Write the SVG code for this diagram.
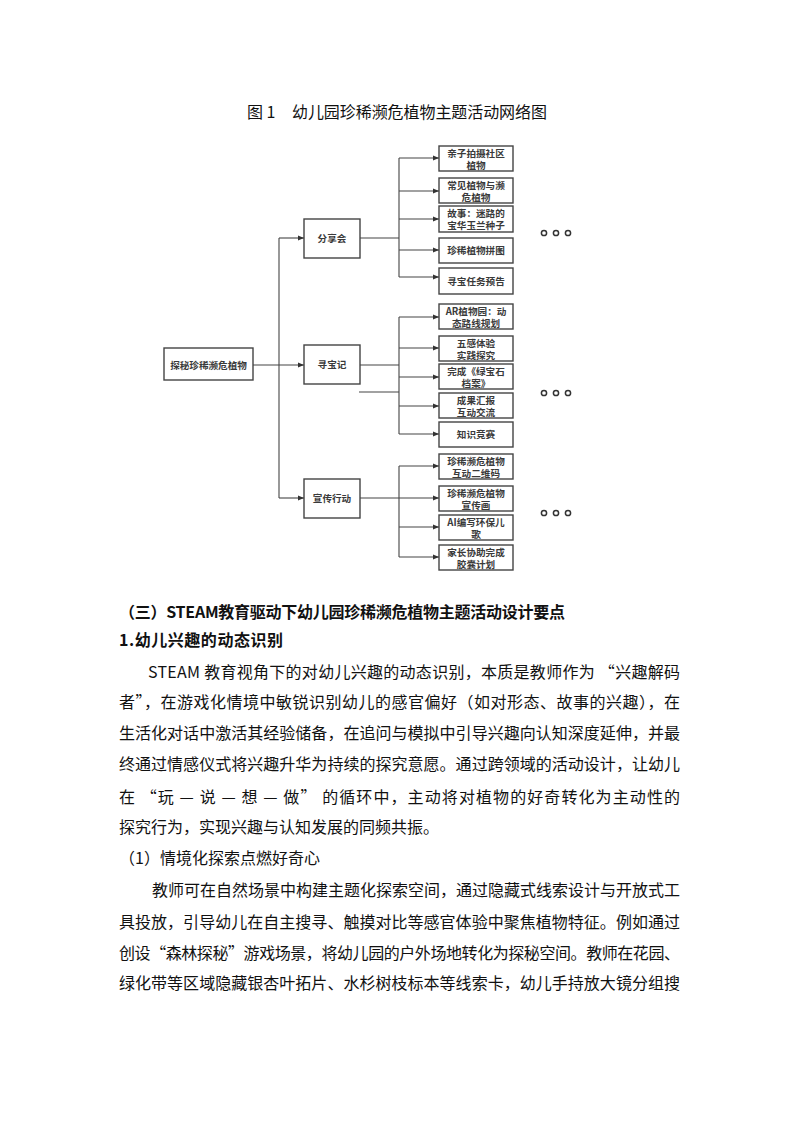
<svg xmlns="http://www.w3.org/2000/svg" width="793" height="1122" viewBox="0 0 793 1122">
<defs>
<marker id="ah" viewBox="0 0 10 10" refX="10" refY="5" markerWidth="6" markerHeight="6" orient="auto" markerUnits="userSpaceOnUse">
<path d="M0,1 L10,5 L0,9 Z" fill="#333"/>
</marker>
<style>
.box{fill:#fff;stroke:#444;stroke-width:1.4}
.nt{font-family:"Noto Sans CJK SC","Noto Sans",sans-serif;font-size:9.6px;font-weight:bold;fill:#3a3a3a;text-anchor:middle}
.ln{fill:none;stroke:#444;stroke-width:1.1}
.ar{fill:none;stroke:#444;stroke-width:1.1;marker-end:url(#ah)}
.dot{fill:none;stroke:#333;stroke-width:1.5}
.body{font-family:"Noto Sans CJK SC","Noto Sans",sans-serif;font-size:16px;fill:#111}
.bold{font-weight:bold}
</style>
</defs>
<rect width="793" height="1122" fill="#fff"/>
<g id="title">
<text class="body" x="247" y="118" font-size="15.5">图 1</text>
<text class="body" x="292" y="118" font-size="15.5" textLength="255" lengthAdjust="spacing">幼儿园珍稀濒危植物主题活动网络图</text>
</g>
<g id="connectors">
<path class="ar" d="M253,365 H304"/>
<path class="ln" d="M279,238 V498"/>
<path class="ar" d="M279,238 H304"/>
<path class="ar" d="M279,498 H304"/>
<path class="ln" d="M360,238 H399 M399,158 V277"/>
<path class="ar" d="M399,158 H439"/>
<path class="ar" d="M399,191 H439"/>
<path class="ar" d="M399,219 H439"/>
<path class="ar" d="M399,250 H439"/>
<path class="ar" d="M399,277 H439"/>
<path class="ln" d="M360,365 H399 M359,392 H399 M399,317 V434"/>
<path class="ar" d="M399,317 H439"/>
<path class="ar" d="M399,348 H439"/>
<path class="ar" d="M399,377 H439"/>
<path class="ar" d="M399,406 H439"/>
<path class="ar" d="M399,434 H439"/>
<path class="ln" d="M360,498 H399 M399,466 V557"/>
<path class="ar" d="M399,466 H439"/>
<path class="ar" d="M399,498 H439"/>
<path class="ar" d="M399,527 H439"/>
<path class="ar" d="M399,557 H439"/>
</g>
<g id="n-root"><rect class="box" x="164" y="348" width="89" height="32"/><text class="nt" x="208.5" y="368.5">探秘珍稀濒危植物</text></g>
<g id="n-share"><rect class="box" x="304" y="219" width="56" height="39"/><text class="nt" x="332" y="242">分享会</text></g>
<g id="n-hunt"><rect class="box" x="304" y="345" width="56" height="39"/><text class="nt" x="332" y="368">寻宝记</text></g>
<g id="n-promo"><rect class="box" x="304" y="479" width="56" height="39"/><text class="nt" x="332" y="502">宣传行动</text></g>

<g id="n-s1"><rect class="box" x="439" y="146" width="74" height="25"/><text class="nt" x="476" y="156.5">亲子拍摄社区</text><text class="nt" x="476" y="168.5">植物</text></g>
<g id="n-s2"><rect class="box" x="439" y="178" width="74" height="25"/><text class="nt" x="476" y="188.5">常见植物与濒</text><text class="nt" x="476" y="200.5">危植物</text></g>
<g id="n-s3"><rect class="box" x="439" y="206" width="74" height="26"/><text class="nt" x="476" y="217">故事：迷路的</text><text class="nt" x="476" y="229">宝华玉兰种子</text></g>
<g id="n-s4"><rect class="box" x="439" y="238" width="74" height="25"/><text class="nt" x="476" y="254">珍稀植物拼图</text></g>
<g id="n-s5"><rect class="box" x="439" y="268" width="74" height="26"/><text class="nt" x="476" y="284.5">寻宝任务预告</text></g>

<g id="n-h1"><rect class="box" x="439" y="304" width="74" height="25"/><text class="nt" x="476" y="314.5">AR植物园：动</text><text class="nt" x="476" y="326.5">态路线规划</text></g>
<g id="n-h2"><rect class="box" x="439" y="336" width="74" height="25"/><text class="nt" x="476" y="346.5">五感体验</text><text class="nt" x="476" y="358.5">实践探究</text></g>
<g id="n-h3"><rect class="box" x="439" y="364" width="74" height="25"/><text class="nt" x="476" y="374.5">完成《绿宝石</text><text class="nt" x="476" y="386.5">档案》</text></g>
<g id="n-h4"><rect class="box" x="439" y="393" width="74" height="25"/><text class="nt" x="476" y="403.5">成果汇报</text><text class="nt" x="476" y="415.5">互动交流</text></g>
<g id="n-h5"><rect class="box" x="439" y="422" width="74" height="25"/><text class="nt" x="476" y="438">知识竞赛</text></g>

<g id="n-p1"><rect class="box" x="439" y="454" width="74" height="25"/><text class="nt" x="476" y="464.5">珍稀濒危植物</text><text class="nt" x="476" y="476.5">互动二维码</text></g>
<g id="n-p2"><rect class="box" x="439" y="486" width="74" height="25"/><text class="nt" x="476" y="496.5">珍稀濒危植物</text><text class="nt" x="476" y="508.5">宣传画</text></g>
<g id="n-p3"><rect class="box" x="439" y="515" width="74" height="25"/><text class="nt" x="476" y="525.5">AI编写环保儿</text><text class="nt" x="476" y="537.5">歌</text></g>
<g id="n-p4"><rect class="box" x="439" y="545" width="74" height="25"/><text class="nt" x="476" y="555.5">家长协助完成</text><text class="nt" x="476" y="567.5">胶囊计划</text></g>

<g id="ellipsis">
<circle class="dot" cx="544" cy="233" r="2.6"/><circle class="dot" cx="556" cy="233" r="2.6"/><circle class="dot" cx="568" cy="233" r="2.6"/>
<circle class="dot" cx="544" cy="393" r="2.6"/><circle class="dot" cx="556" cy="393" r="2.6"/><circle class="dot" cx="568" cy="393" r="2.6"/>
<circle class="dot" cx="544" cy="513" r="2.6"/><circle class="dot" cx="556" cy="513" r="2.6"/><circle class="dot" cx="568" cy="513" r="2.6"/>
</g>

<g id="body-text">
<text class="body bold" x="119" y="618" textLength="446" lengthAdjust="spacing">（三）STEAM教育驱动下幼儿园珍稀濒危植物主题活动设计要点</text>
<text class="body bold" x="119" y="646" textLength="164" lengthAdjust="spacing">1.幼儿兴趣的动态识别</text>
<text class="body" x="148" y="678" textLength="532" lengthAdjust="spacing">STEAM 教育视角下的对幼儿兴趣的动态识别，本质是教师作为 “兴趣解码</text>
<text class="body" x="119" y="708" textLength="561" lengthAdjust="spacing">者”，在游戏化情境中敏锐识别幼儿的感官偏好（如对形态、故事的兴趣），在</text>
<text class="body" x="119" y="739" textLength="561" lengthAdjust="spacing">生活化对话中激活其经验储备，在追问与模拟中引导兴趣向认知深度延伸，并最</text>
<text class="body" x="119" y="770" textLength="561" lengthAdjust="spacing">终通过情感仪式将兴趣升华为持续的探究意愿。通过跨领域的活动设计，让幼儿</text>
<text class="body" x="119" y="803" textLength="561" lengthAdjust="spacing">在 “玩 — 说 — 想 — 做” 的循环中，主动将对植物的好奇转化为主动性的</text>
<text class="body" x="119" y="833">探究行为，实现兴趣与认知发展的同频共振。</text>
<text class="body" x="119" y="864">（1）情境化探索点燃好奇心</text>
<text class="body" x="152" y="896" textLength="528" lengthAdjust="spacing">教师可在自然场景中构建主题化探索空间，通过隐藏式线索设计与开放式工</text>
<text class="body" x="119" y="928" textLength="561" lengthAdjust="spacing">具投放，引导幼儿在自主搜寻、触摸对比等感官体验中聚焦植物特征。例如通过</text>
<text class="body" x="119" y="959" textLength="561" lengthAdjust="spacing">创设“森林探秘”游戏场景，将幼儿园的户外场地转化为探秘空间。教师在花园、</text>
<text class="body" x="119" y="989" textLength="561" lengthAdjust="spacing">绿化带等区域隐藏银杏叶拓片、水杉树枝标本等线索卡，幼儿手持放大镜分组搜</text>
</g>
</svg>
